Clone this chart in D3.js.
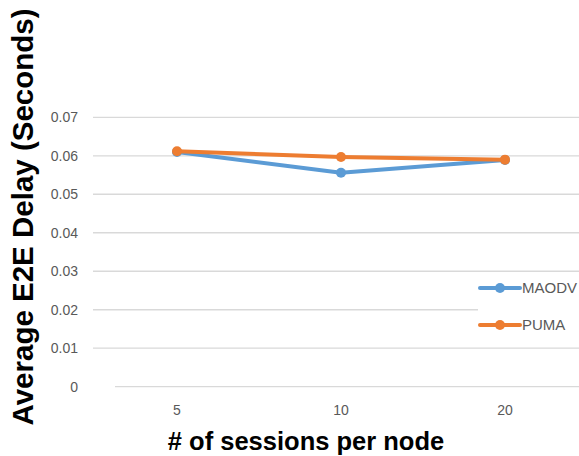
<!DOCTYPE html>
<html><head><meta charset="utf-8">
<script src="https://cdn.jsdelivr.net/npm/d3@7"></script>
<style>body{margin:0;background:#fff;} svg{display:block;}</style>
</head><body>
<svg id="c" width="579" height="456"></svg>
<script>
const categories = ["5", "10", "20"];
const maodv = [0.0610, 0.0556, 0.0589];
const puma = [0.0612, 0.0597, 0.0590];
const yTicks = [0, 0.01, 0.02, 0.03, 0.04, 0.05, 0.06, 0.07];
const seriesNames = ["MAODV", "PUMA"];
const colors = ["#5b9bd5", "#ed7d31"];
const series = [maodv, puma];

const svg = d3.select("#c");
const x = d3.scaleBand().domain(categories).range([95, 587]);
const y = d3.scaleLinear().domain([0, 0.07]).range([386.7, 117.3]);

// gridlines
svg.append("g").selectAll("line").data(yTicks).join("line")
  .attr("x1", d => d === 0 ? 115 : 93).attr("x2", 579)
  .attr("y1", d => y(d)).attr("y2", d => y(d))
  .attr("stroke", "#d9d9d9").attr("stroke-width", 1.3);

// y tick labels
svg.append("g").selectAll("text").data(yTicks).join("text")
  .attr("x", 78).attr("y", d => y(d)).attr("dy", "0.35em")
  .attr("text-anchor", "end")
  .attr("font-family", "Liberation Sans, Arial, sans-serif").attr("font-size", 14)
  .attr("fill", "#595959")
  .text(d => d === 0 ? "0" : d3.format(".2f")(d));

// x tick labels
svg.append("g").selectAll("text").data(categories).join("text")
  .attr("x", d => x(d) + x.bandwidth() / 2).attr("y", 410).attr("dy", "0.35em")
  .attr("text-anchor", "middle")
  .attr("font-family", "Liberation Sans, Arial, sans-serif").attr("font-size", 14)
  .attr("fill", "#595959")
  .text(d => d);

// lines
const line = d3.line().x((d, i) => x(categories[i]) + x.bandwidth() / 2).y(d => y(d));
series.forEach((s, k) => {
  const g = svg.append("g");
  g.append("path").datum(s).attr("d", line).attr("fill", "none")
    .attr("stroke", colors[k]).attr("stroke-width", 4).attr("stroke-linejoin", "round");
  g.selectAll("circle").data(s).join("circle")
    .attr("cx", (d, i) => x(categories[i]) + x.bandwidth() / 2).attr("cy", d => y(d))
    .attr("r", 5).attr("fill", colors[k]);
});

// legend
const lg = svg.append("g");
lg.append("rect").attr("x", 478).attr("y", 275).attr("width", 101).attr("height", 62).attr("fill", "#fff");
seriesNames.forEach((n, k) => {
  const yy = 288 + k * 37;
  lg.append("line").attr("x1", 480).attr("x2", 520).attr("y1", yy).attr("y2", yy)
    .attr("stroke", colors[k]).attr("stroke-width", 4).attr("stroke-linecap", "round");
  lg.append("circle").attr("cx", 500).attr("cy", yy).attr("r", 5).attr("fill", colors[k]);
  lg.append("text").attr("x", 522).attr("y", yy).attr("dy", "0.35em")
    .attr("font-family", "Liberation Sans, Arial, sans-serif").attr("font-size", 15)
    .attr("fill", "#595959").text(n);
});

// axis titles
svg.append("text").attr("x", 306).attr("y", 450)
  .attr("text-anchor", "middle")
  .attr("font-family", "Liberation Sans, Arial, sans-serif").attr("font-weight", "bold")
  .attr("font-size", 25.5).attr("fill", "#000")
  .text("# of sessions per node");
svg.append("text").attr("transform", "translate(33,217) rotate(-90)")
  .attr("text-anchor", "middle")
  .attr("font-family", "Liberation Sans, Arial, sans-serif").attr("font-weight", "bold")
  .attr("font-size", 29.5).attr("fill", "#000")
  .text("Average E2E Delay (Seconds)");
</script>
</body></html>
